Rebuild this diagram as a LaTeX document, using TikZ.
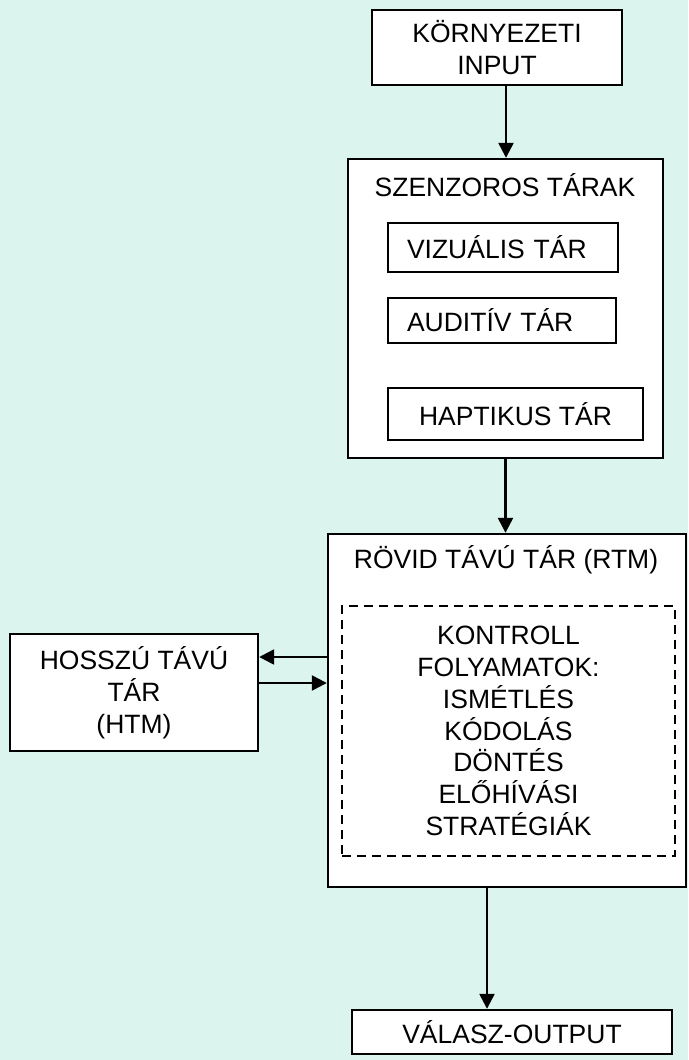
\documentclass[tikz,border=0pt]{standalone}
\usepackage{fontspec}
\setmainfont{Liberation Sans}
\usetikzlibrary{arrows.meta}
\definecolor{bg}{RGB}{220,244,238}
\begin{document}
\begin{tikzpicture}[x=1pt,y=-1pt,
  lbl/.style={font=\fontsize{26.5}{31.8}\selectfont},
  box/.style={draw=black, fill=white, line width=2.4pt, inner sep=0pt, align=center, lbl},
  subbox/.style={box, line width=2.2pt},
  txt/.style={inner sep=0pt, align=center, lbl},
  dbox/.style={draw=black, line width=2.2pt, dash pattern=on 9pt off 6pt, inner sep=0pt, align=center, lbl},
  arr/.style={line width=2.4pt, -{Triangle[length=15pt,width=15pt]}}]
\fill[bg] (0,0) rectangle (688,1060);
\useasboundingbox (0,0) rectangle (688,1060);

\node[box, minimum width=250pt, minimum height=75pt] (inp) at (497,47.5) {KÖRNYEZETI\\INPUT};

\node[box, minimum width=315pt, minimum height=299pt] (sens) at (505.5,308.5) {};
\node[txt] (senst) at (505,185) {SZENZOROS TÁRAK};
\node[subbox, minimum height=49pt, text width=192pt, inner xsep=19pt, align=left] (viz) at (503,247.5) {VIZUÁLIS TÁR};
\node[subbox, minimum height=45pt, text width=190pt, inner xsep=19pt, align=left] (aud) at (502,320.5) {AUDITÍV TÁR};
\node[subbox, minimum width=255pt, minimum height=52pt] (hap) at (515.5,414) {HAPTIKUS TÁR};

\node[box, minimum width=358pt, minimum height=353pt] (rtm) at (507,710.5) {};
\node[txt] (rtmt) at (506,560) {RÖVID TÁVÚ TÁR (RTM)};
\node[dbox, minimum width=333pt, minimum height=250pt] (ctrl) at (508.5,731) {KONTROLL\\FOLYAMATOK:\\ISMÉTLÉS\\KÓDOLÁS\\DÖNTÉS\\ELŐHÍVÁSI\\STRATÉGIÁK};

\node[box, minimum width=248pt, minimum height=117pt] (htm) at (134,692.5) {HOSSZÚ TÁVÚ\\TÁR\\(HTM)};

\node[box, minimum width=320pt, minimum height=44pt] (out) at (512,1032) {VÁLASZ-OUTPUT};

\draw[arr] ([xshift=9pt]inp.south) -- ([xshift=9pt]inp.south |- sens.north);
\draw[arr] (sens.south) -- (sens.south |- rtm.north);
\draw[arr] ([xshift=-20pt]rtm.south) -- ([xshift=-20pt]rtm.south |- out.north);
\path ([yshift=35.5pt]htm.east) coordinate (h1) ([yshift=9.5pt]htm.east) coordinate (h2);
\draw[arr] (h1 -| rtm.west) -- (h1);
\draw[arr] (h2) -- (h2 -| rtm.west);
\end{tikzpicture}
\end{document}
